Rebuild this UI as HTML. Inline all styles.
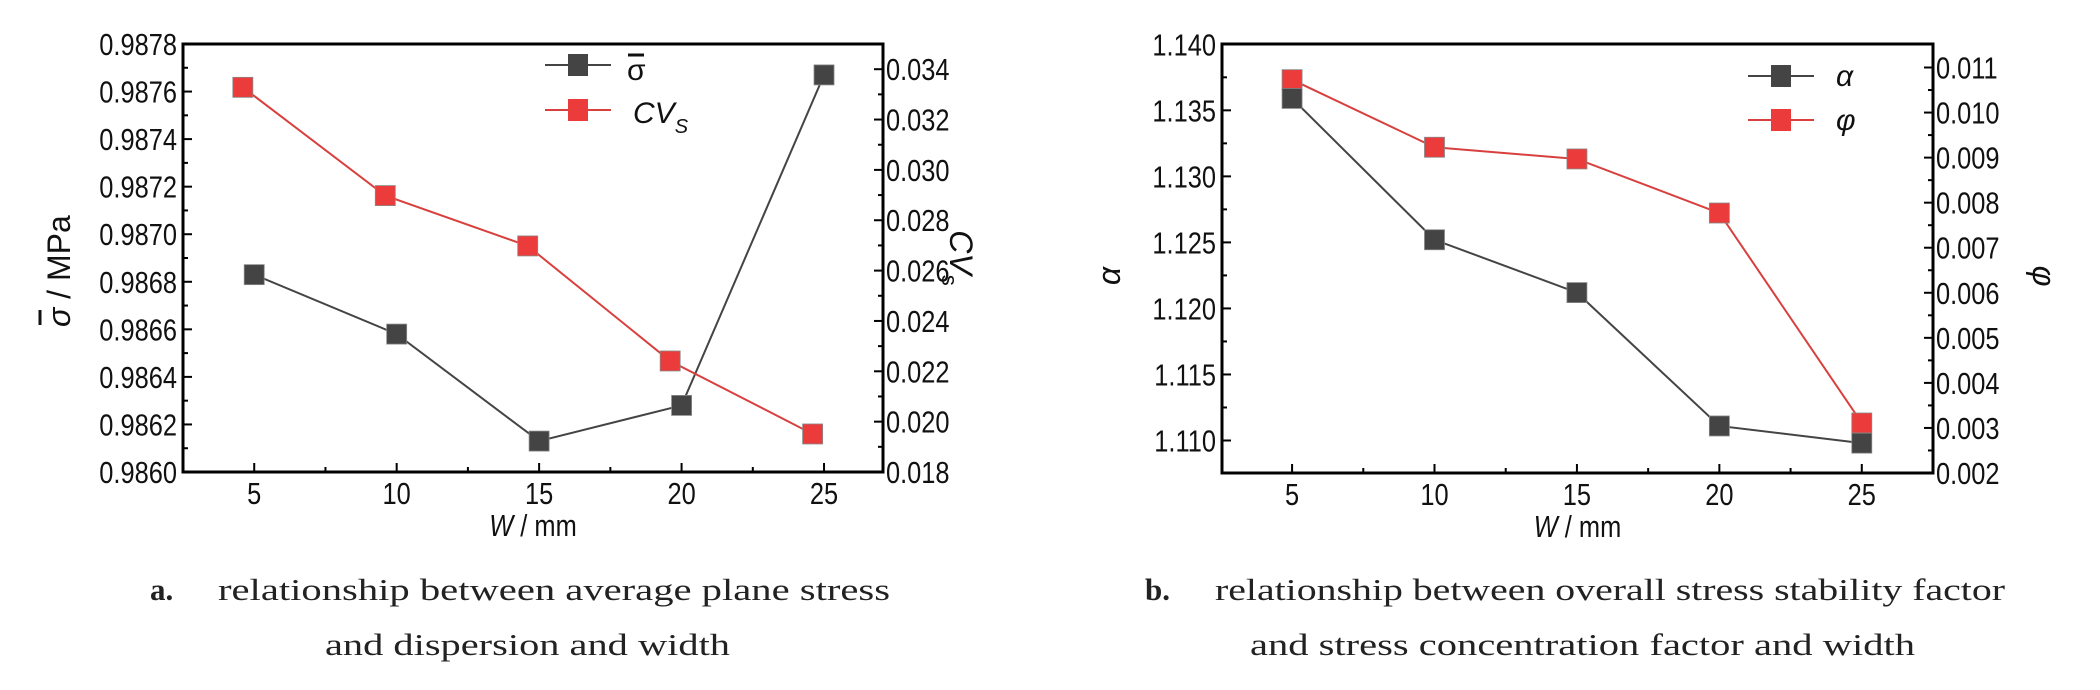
<!DOCTYPE html>
<html><head><meta charset="utf-8"><style>
html,body{margin:0;padding:0;background:#fff;}
svg text{font-family:"Liberation Sans",sans-serif;}
.cap{font-family:"Liberation Serif",serif;font-size:31px;fill:#222;}
</style></head><body>
<svg id="root" width="2100" height="685" viewBox="0 0 2100 685" xmlns="http://www.w3.org/2000/svg">
<g id="chartA"></g>
<g id="chartB"></g>
<g>
<text class="cap" x="150" y="600" font-weight="bold">a.</text>
<text class="cap" x="218" y="600" textLength="672" lengthAdjust="spacingAndGlyphs">relationship between average plane stress</text>
<text class="cap" x="325" y="655" textLength="405" lengthAdjust="spacingAndGlyphs">and dispersion and width</text>
</g>
<g>
<text class="cap" x="1145" y="600" font-weight="bold">b.</text>
<text class="cap" x="1215" y="600" textLength="790" lengthAdjust="spacingAndGlyphs">relationship between overall stress stability factor</text>
<text class="cap" x="1250" y="655" textLength="665" lengthAdjust="spacingAndGlyphs">and stress concentration factor and width</text>
</g>
</svg>
<script>
// ---- chart a data ----
const catsA = [5, 10, 15, 20, 25];
const sigmaVals = [0.98683, 0.98658, 0.98613, 0.98628, 0.98767];
const cvX = [4.6, 9.6, 14.6, 19.6, 24.6];
const cvVals = [0.03328, 0.02898, 0.02698, 0.02241, 0.01951];
const ticksAL = [0.9860, 0.9862, 0.9864, 0.9866, 0.9868, 0.9870, 0.9872, 0.9874, 0.9876, 0.9878];
const ticksAR = [0.018, 0.020, 0.022, 0.024, 0.026, 0.028, 0.030, 0.032, 0.034];
// ---- chart b data ----
const catsB = [5, 10, 15, 20, 25];
const alphaVals = [1.1359, 1.1252, 1.1212, 1.1111, 1.1098];
const phiVals = [0.01073, 0.00923, 0.00897, 0.00777, 0.00311];
const ticksBL = [1.110, 1.115, 1.120, 1.125, 1.130, 1.135, 1.140];
const ticksBR = [0.002, 0.003, 0.004, 0.005, 0.006, 0.007, 0.008, 0.009, 0.010, 0.011];
const xTicks = [5, 10, 15, 20, 25];

const NS = "http://www.w3.org/2000/svg";
function mk(parent, tag, attrs, text){
  const e = document.createElementNS(NS, tag);
  for (const k in attrs) e.setAttribute(k, attrs[k]);
  if (text !== undefined) e.textContent = text;
  parent.appendChild(e);
  return e;
}
function lin(d0,d1,r0,r1){return v => r0 + (v-d0)/(d1-d0)*(r1-r0);}

function drawChart(g, cfg){
  const {L,R,T,B,xs,yl,yr} = cfg;
  const fr = mk(g,'rect',{x:L,y:T,width:R-L,height:B-T,fill:'none',stroke:'#000','stroke-width':3});
  
  
  xTicks.forEach((v,i)=>{
    const x = xs(v);
    const t = mk(g,'line',{x1:x,x2:x,y1:B,y2:B-9,stroke:'#000','stroke-width':2});
    
    
    if(i<xTicks.length-1){
      const xm = xs(v+2.5);
      const m = mk(g,'line',{x1:xm,x2:xm,y1:B,y2:B-5,stroke:'#000','stroke-width':2});
      
      
    }
    const lb = mk(g,'text',{x:x,y:B+32,'font-size':31,'text-anchor':'middle',fill:'#111',transform:`translate(${x},0) scale(0.82,1) translate(${-x},0)`},String(v));
    
    
  });
  cfg.tl.forEach((v,i)=>{
    const y = yl(v);
    const t = mk(g,'line',{x1:L,x2:L+9,y1:y,y2:y,stroke:'#000','stroke-width':2});
    
    
    if(i<cfg.tl.length-1){
      const ym = (y + yl(cfg.tl[i+1]))/2;
      const m = mk(g,'line',{x1:L,x2:L+5,y1:ym,y2:ym,stroke:'#000','stroke-width':2});
      
      
    }
    const xx = L-6;
    const lb = mk(g,'text',{x:xx,y:y+11,'font-size':31,'text-anchor':'end',fill:'#111',transform:`translate(${xx},0) scale(0.82,1) translate(${-xx},0)`},v.toFixed(cfg.dl));
    
    
  });
  cfg.tr.forEach((v,i)=>{
    const y = yr(v);
    const t = mk(g,'line',{x1:R,x2:R-9,y1:y,y2:y,stroke:'#000','stroke-width':2});
    
    
    if(i<cfg.tr.length-1){
      const ym = (y + yr(cfg.tr[i+1]))/2;
      const m = mk(g,'line',{x1:R,x2:R-5,y1:ym,y2:ym,stroke:'#000','stroke-width':2});
      
      
    }
    const xx = R+3;
    const lb = mk(g,'text',{x:xx,y:y+11,'font-size':31,'text-anchor':'start',fill:'#111',transform:`translate(${xx},0) scale(0.82,1) translate(${-xx},0)`},v.toFixed(3));
    
    
  });
  const cx = (L+R)/2;
  const xt = mk(g,'text',{x:cx,y:B+64,'font-size':31,'text-anchor':'middle',fill:'#111',transform:`translate(${cx},0) scale(0.82,1) translate(${-cx},0)`});
  
  
  mk(xt,'tspan',{'font-style':'italic'},'W');
  mk(xt,'tspan',{},' / mm');
}
function series(g, xsArr, vals, xs, ys, color, mcolor, name){
  const pts = vals.map((v,i)=>[xs(xsArr[i]), ys(v)]);
  const pl = mk(g,'polyline',{points:pts.map(p=>p.join(',')).join(' '),fill:'none',stroke:color,'stroke-width':2});
  
  
  pts.forEach(p=>{
    const r = mk(g,'rect',{x:p[0]-10,y:p[1]-10,width:20,height:20,fill:mcolor,stroke:'#888','stroke-width':0.8});
    
    
  });
}
function legend(g, x, y, color, mcolor, name){
  const l = mk(g,'line',{x1:x,x2:x+66,y1:y,y2:y,stroke:color,'stroke-width':2});
  
  
  const r = mk(g,'rect',{x:x+23,y:y-11,width:20,height:22,fill:mcolor});
  
  
}

// chart A
(function(){
  const g = document.getElementById('chartA');
  const L=183,R=883,T=44,B=472;
  const xs = lin(2.5,27.07,L,R);
  const yl = lin(0.9860,0.9878,B,T);
  const yr = lin(0.018,0.034,B,69.2);
  drawChart(g,{L,R,T,B,xs,yl,yr,tl:ticksAL,tr:ticksAR,dl:4});
  series(g,catsA,sigmaVals,xs,yl,'#444','#444','sigma');
  series(g,cvX,cvVals,xs,yr,'#d8403e','#ec3b3b','cv');
  legend(g,545,65,'#444','#444','sigma');
  legend(g,545,110,'#d8403e','#ec3b3b','cv');
  const t1 = mk(g,'text',{x:627,y:80,'font-size':30,fill:'#111'},'σ');
  
  
  const ob = mk(g,'line',{x1:628,x2:644,y1:55,y2:55,stroke:'#111','stroke-width':3});
  
  
  const t2 = mk(g,'text',{x:633,y:123,'font-size':30,'font-style':'italic',fill:'#111'});
  
  
  t2.innerHTML = 'CV<tspan font-size="20" dy="10">S</tspan>';
  const yg = mk(g,'g',{transform:'translate(70,276) rotate(-90)'});
  
  
  const yt = mk(yg,'text',{x:-51,y:0,'font-size':32,'text-anchor':'start',fill:'#111'});
  yt.innerHTML = '<tspan font-style="italic">σ</tspan> / MPa';
  mk(yg,'line',{x1:-49,x2:-34,y1:-30,y2:-30,stroke:'#111','stroke-width':3});
  const yt2 = mk(g,'text',{x:0,y:0,'font-size':32,'text-anchor':'middle',fill:'#111',transform:'translate(950,258) rotate(90)'});
  
  
  yt2.innerHTML = '<tspan font-style="italic">CV</tspan><tspan font-size="22" dy="8">s</tspan>';
})();

// chart B
(function(){
  const g = document.getElementById('chartB');
  const L=1222,R=1933,T=44,B=473;
  const xs = lin(2.54,27.5,L,R);
  const yl = lin(1.110,1.140,440.5,44.3);
  const yr = lin(0.002,0.011,B,67.5);
  drawChart(g,{L,R,T,B,xs,yl,yr,tl:ticksBL,tr:ticksBR,dl:3});
  series(g,catsB,phiVals,xs,yr,'#d8403e','#ec3b3b','phi');
  series(g,catsB,alphaVals,xs,yl,'#444','#444','alpha');
  legend(g,1748,76,'#444','#444','alpha');
  legend(g,1748,120,'#d8403e','#ec3b3b','phi');
  const t1 = mk(g,'text',{x:1836,y:86,'font-size':30,'font-style':'italic',fill:'#111'},'α');
  
  
  const t2 = mk(g,'text',{x:1836,y:130,'font-size':30,'font-style':'italic',fill:'#111'},'φ');
  
  
  const yt = mk(g,'text',{x:0,y:0,'font-size':32,'font-style':'italic','text-anchor':'middle',fill:'#111',transform:'translate(1120,276) rotate(-90)'},'α');
  
  
  const yt2 = mk(g,'text',{x:0,y:0,'font-size':32,'font-style':'italic','text-anchor':'middle',fill:'#111',transform:'translate(2033,276) rotate(90)'},'φ');
  
  
})();
</script>
</body></html>
